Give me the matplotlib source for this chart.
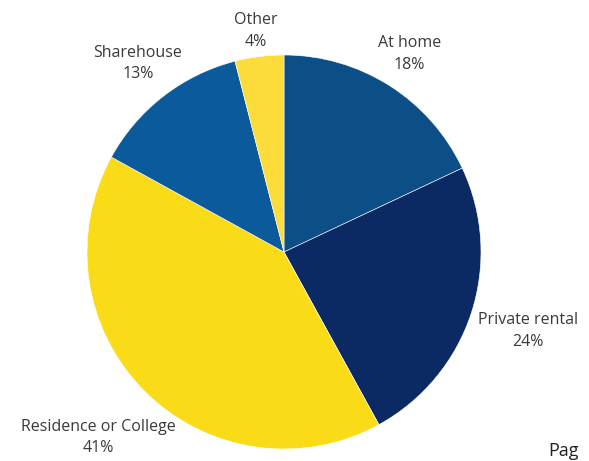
import numpy as np
import matplotlib.pyplot as plt

# dane z wykresu
kategorie = ['At home', 'Private rental', 'Residence or College', 'Sharehouse', 'Other']
udzialy = [18, 24, 41, 13, 4]
kolory = ['#0b4f86', '#0b2a63', '#f9dc17', '#0b5a9c', '#fbdc3a']
odleglosci = [1.19, 1.30, 1.33, 1.21, 1.13]  # promien etykiet dla kazdego wycinka

plt.rcParams['font.family'] = ['Open Sans', 'DejaVu Sans']

fig = plt.figure(figsize=(5.89, 4.61), dpi=100)
ax = fig.add_axes([0, 0, 1, 1])

wedges, _ = ax.pie(udzialy, colors=kolory, startangle=90, counterclock=False,
                   radius=1.0, center=(0, 0),
                   wedgeprops=dict(edgecolor='white', linewidth=0.4))

# etykiety na zewnatrz, wzdluz srodka wycinka
for w, nazwa, pct, d in zip(wedges, kategorie, udzialy, odleglosci):
    kat = np.deg2rad((w.theta1 + w.theta2) / 2)
    ax.text(d * np.cos(kat), d * np.sin(kat), f"{nazwa}\n{pct}%",
            ha='center', va='center', fontsize=11.5, color='#3a3a3a',
            linespacing=1.45)

# tekst w prawym dolnym rogu
fig.text(548 / 589, 0.002, 'Pag', fontsize=13, color='#222222',
         ha='left', va='bottom')

ax.set_xlim(-284 / 197, (589 - 284) / 197)
ax.set_ylim(-209 / 197, 252 / 197)
ax.set_aspect('auto')
ax.axis('off')

fig.savefig('out.png', dpi=100)
